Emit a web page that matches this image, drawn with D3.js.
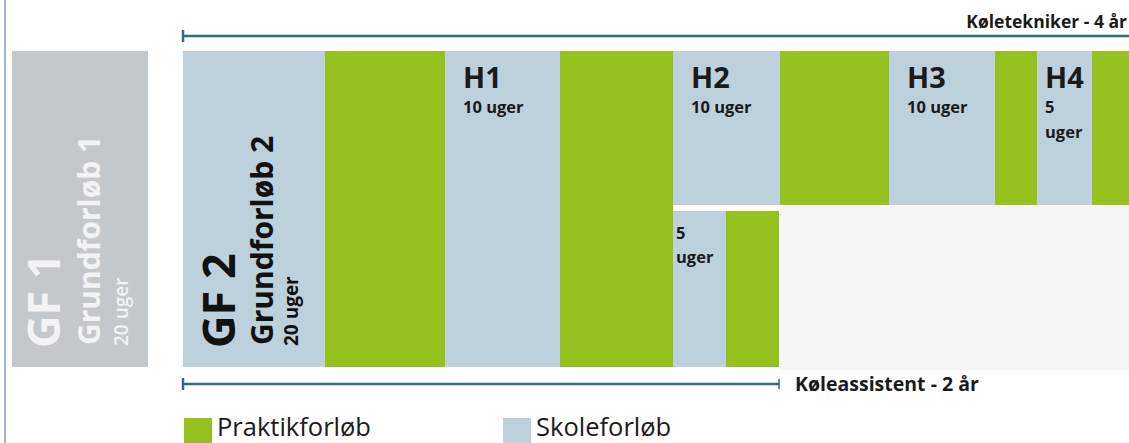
<!DOCTYPE html>
<html>
<head>
<meta charset="utf-8">
<script src="https://d3js.org/d3.v7.min.js"></script>
<style>
  body { margin: 0; background: #fff; }
  svg { display: block; font-family: "Open Sans", "Noto Sans", sans-serif; }
</style>
</head>
<body>
<div id="chart"></div>
<script>
// Schematic units (widths of each block along the track)
var topTypes  = ["skole", "praktik", "skole", "praktik", "skole", "praktik", "skole", "praktik", "skole", "praktik"];
var topWidths = [142, 120, 115, 113, 107, 109, 106, 42, 55, 60];
var topTitles = ["", "", "H1", "", "H2", "", "H3", "", "H4", ""];
var topSubs   = [[], [], ["10 uger"], [], ["10 uger"], [], ["10 uger"], [], ["5", "uger"], []];
// blocks that run down the full height (the 2-year track)
var topFull   = [true, true, true, true, false, false, false, false, false, false];

// lower branch (Køleassistent) after H2 starts
var lowTypes  = ["skole", "praktik"];
var lowWidths = [53, 53];
var lowSubs   = [["5", "uger"], []];

var gfNames   = ["GF 1", "GF 2"];
var gfSubs    = ["Grundforløb 1", "Grundforløb 2"];
var gfWeeks   = ["20 uger", "20 uger"];

var legendKeys   = ["praktik", "skole"];
var legendLabels = ["Praktikforløb", "Skoleforløb"];

var longLabel  = "Køletekniker - 4 år";
var shortLabel = "Køleassistent - 2 år";

var svgWidth = 1129;
var svgHeight = 443;

var color = d3.scaleOrdinal()
  .domain(["praktik", "skole", "gf1"])
  .range(["#95c11f", "#bcd1db", "#c3c8cc"]);

var teal = "#2e6f7b";
var ink = "#1a1a1a";

var svg = d3.select("#chart")
  .append("svg")
  .attr("width", svgWidth)
  .attr("height", svgHeight);

// left page border
svg.append("line")
  .attr("x1", 5).attr("x2", 5)
  .attr("y1", 0).attr("y2", svgHeight)
  .attr("stroke", "#9cb7df")
  .attr("stroke-width", 2);

// cumulative starts of the top track
var starts = [];
var acc = 0;
topWidths.forEach(function (w) { starts.push(acc); acc += w; });
var total = acc;

var x = d3.scaleLinear()
  .domain([0, total])
  .range([183, 183 + total]);

var y = d3.scaleLinear()
  .domain([0, 1])
  .range([51, 367]);

var splitY = 205;
var lowTop = 211;

// branch start = start of H2
var branch = starts[4];
var lowStarts = [branch, branch + lowWidths[0]];
var branchEnd = branch + lowWidths[0] + lowWidths[1];

// light grey area to the right of the short track
svg.append("rect")
  .attr("x", x(branchEnd))
  .attr("y", splitY + 1)
  .attr("width", svgWidth - x(branchEnd))
  .attr("height", 370 - splitY - 1)
  .attr("fill", "#f5f5f5");

// GF1 block
svg.append("rect")
  .attr("x", 12)
  .attr("y", y(0))
  .attr("width", 136)
  .attr("height", y(1) - y(0))
  .attr("fill", color("gf1"));

// top track blocks
var topData = topTypes.map(function (t, i) {
  return { type: t, start: starts[i], width: topWidths[i], full: topFull[i], title: topTitles[i], subs: topSubs[i] };
});

svg.selectAll("rect.top")
  .data(topData)
  .enter()
  .append("rect")
  .attr("class", "top")
  .attr("x", d => x(d.start))
  .attr("y", y(0))
  .attr("width", d => x(d.start + d.width) - x(d.start))
  .attr("height", d => d.full ? y(1) - y(0) : splitY - y(0))
  .attr("fill", d => color(d.type));

// lower branch blocks
var lowData = lowTypes.map(function (t, i) {
  return { type: t, start: lowStarts[i], width: lowWidths[i], subs: lowSubs[i] };
});

svg.selectAll("rect.low")
  .data(lowData)
  .enter()
  .append("rect")
  .attr("class", "low")
  .attr("x", d => x(d.start))
  .attr("y", lowTop)
  .attr("width", d => x(d.start + d.width) - x(d.start))
  .attr("height", y(1) - lowTop)
  .attr("fill", d => color(d.type));

// H labels
topData.forEach(function (d) {
  if (!d.title) return;
  var tx = x(d.start) + (d.subs.length > 1 ? 8 : 18);
  svg.append("text")
    .attr("x", tx)
    .attr("y", 88)
    .attr("font-size", 29)
    .attr("font-weight", 700)
    .attr("fill", ink)
    .text(d.title);
  d.subs.forEach(function (s, j) {
    svg.append("text")
      .attr("x", tx)
      .attr("y", 113 + j * 25)
      .attr("font-size", 16.5)
      .attr("font-weight", 700)
      .attr("fill", ink)
      .text(s);
  });
});

lowData.forEach(function (d) {
  d.subs.forEach(function (s, j) {
    svg.append("text")
      .attr("x", x(d.start) + 3)
      .attr("y", 239 + j * 24)
      .attr("font-size", 16.5)
      .attr("font-weight", 700)
      .attr("fill", ink)
      .text(s);
  });
});

// rotated GF labels
var gfX = [12, 183];
var gfFill = ["#f2f3f4", "#111"];
var gfLine = [[48, 88, 116], [52, 90, 115]];
var gfWeight = [600, 700];
gfNames.forEach(function (name, i) {
  var g = svg.append("g")
    .attr("transform", "translate(" + gfX[i] + ", 348) rotate(-90)");
  g.append("text")
    .attr("x", 0).attr("y", gfLine[i][0])
    .attr("font-size", 45)
    .attr("font-weight", 700)
    .attr("fill", gfFill[i])
    .text(name);
  g.append("text")
    .attr("x", 3).attr("y", gfLine[i][1])
    .attr("font-size", 30)
    .attr("font-weight", 700)
    .attr("fill", gfFill[i])
    .text(gfSubs[i]);
  g.append("text")
    .attr("x", 2).attr("y", gfLine[i][2])
    .attr("font-size", 19)
    .attr("font-weight", gfWeight[i])
    .attr("fill", gfFill[i])
    .text(gfWeeks[i]);
});

// brackets
function bracket(x1, x2, yy, rightTick) {
  svg.append("line")
    .attr("x1", x1).attr("x2", x2)
    .attr("y1", yy).attr("y2", yy)
    .attr("stroke", teal).attr("stroke-width", 2.5);
  svg.append("line")
    .attr("x1", x1).attr("x2", x1)
    .attr("y1", yy - 6).attr("y2", yy + 6)
    .attr("stroke", teal).attr("stroke-width", 2.5);
  if (rightTick) {
    svg.append("line")
      .attr("x1", x2).attr("x2", x2)
      .attr("y1", yy - 5).attr("y2", yy + 5)
      .attr("stroke", teal).attr("stroke-width", 1.5);
  }
}

bracket(x(0), svgWidth, 36, false);
bracket(x(0), x(branchEnd), 384, true);

svg.append("text")
  .attr("x", svgWidth - 2)
  .attr("y", 28)
  .attr("text-anchor", "end")
  .attr("font-size", 17.5)
  .attr("font-weight", 700)
  .attr("fill", ink)
  .text(longLabel);

svg.append("text")
  .attr("x", x(branchEnd) + 16)
  .attr("y", 391)
  .attr("font-size", 19.5)
  .attr("font-weight", 700)
  .attr("fill", ink)
  .text(shortLabel);

// legend
var legendX = [184, 503];
legendKeys.forEach(function (k, i) {
  svg.append("rect")
    .attr("x", legendX[i])
    .attr("y", 418)
    .attr("width", 28)
    .attr("height", 30)
    .attr("fill", color(k));
  svg.append("text")
    .attr("x", legendX[i] + 33)
    .attr("y", 436)
    .attr("font-size", 25.5)
    .attr("fill", ink)
    .text(legendLabels[i]);
});
</script>
</body>
</html>
